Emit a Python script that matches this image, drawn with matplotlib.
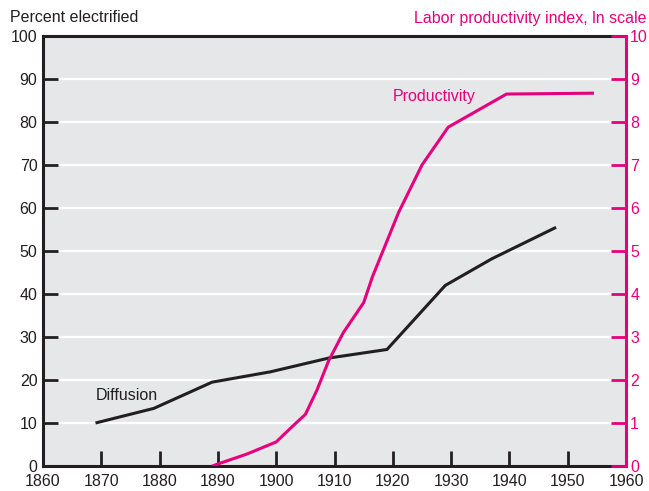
import matplotlib
matplotlib.use("Agg")
import matplotlib.pyplot as plt

plt.rcParams['font.family'] = ['Liberation Sans', 'DejaVu Sans']

# 数据
diff_years = [1869, 1879, 1889, 1899, 1909, 1919, 1929, 1937, 1948]
diff_pct = [10, 13.4, 19.5, 21.9, 25.1, 27.1, 42, 48.2, 55.5]

prod_years = [1889, 1895, 1900, 1903, 1905, 1907, 1909, 1911.5, 1915, 1916.5,
              1918, 1921, 1925, 1929.5, 1939.5, 1954.5]
prod_index = [0, 0.28, 0.56, 0.95, 1.2, 1.77, 2.45, 3.1, 3.8, 4.4,
              4.9, 5.9, 7.0, 7.88, 8.65, 8.67]

x_ticks = list(range(1860, 1961, 10))
left_ticks = list(range(0, 101, 10))
right_ticks = list(range(0, 11))

MAGENTA = '#E6007E'
BG = '#E6E7E8'
DARK = '#231F20'
FS = 11.5

fig = plt.figure(figsize=(6.49, 4.91), dpi=100)
ax = fig.add_axes([0.0663, 0.0509, 0.8983, 0.8758])
ax.set_facecolor(BG)
ax.set_xlim(1860, 1960)
ax.set_ylim(0, 100)

# 白色横向网格线
for v in left_ticks[1:-1]:
    ax.axhline(v, color='white', lw=1.6, zorder=1)

ax.plot(diff_years, diff_pct, color=DARK, lw=2.2, zorder=3,
        solid_capstyle='butt', solid_joinstyle='miter')

ax.set_xticks(x_ticks)
ax.set_yticks(left_ticks)
ax.tick_params(axis='both', direction='in', length=11, width=2, color=DARK,
               labelsize=FS, labelcolor=DARK, pad=4)
ax.tick_params(axis='x', pad=6)
for s in ['left', 'bottom', 'top']:
    ax.spines[s].set_linewidth(2.2)
    ax.spines[s].set_color(DARK)
ax.spines['right'].set_visible(False)

# 右轴：生产率指数
ax2 = ax.twinx()
ax2.set_ylim(0, 10)
ax2.set_yticks(right_ticks)
ax2.plot(prod_years, prod_index, color=MAGENTA, lw=2.2, zorder=4,
         solid_capstyle='butt', solid_joinstyle='miter')
ax2.tick_params(axis='y', direction='in', length=11, width=2, color=MAGENTA,
                labelsize=FS, labelcolor=MAGENTA, pad=3)
ax2.spines['right'].set_color(MAGENTA)
ax2.spines['right'].set_linewidth(2.2)
for s in ['left', 'bottom', 'top']:
    ax2.spines[s].set_visible(False)

ax.text(1869, 16.5, 'Diffusion', fontsize=FS, color=DARK, ha='left', va='center')
ax2.text(1920, 8.6, 'Productivity', fontsize=FS, color=MAGENTA, ha='left', va='center')

fig.text(10 / 649, 1 - 18 / 491, 'Percent electrified', fontsize=FS,
         color=DARK, ha='left', va='center')
fig.text(646 / 649, 1 - 18 / 491, 'Labor productivity index, ln scale', fontsize=FS,
         color=MAGENTA, ha='right', va='center')

fig.savefig('out.png', dpi=100)
